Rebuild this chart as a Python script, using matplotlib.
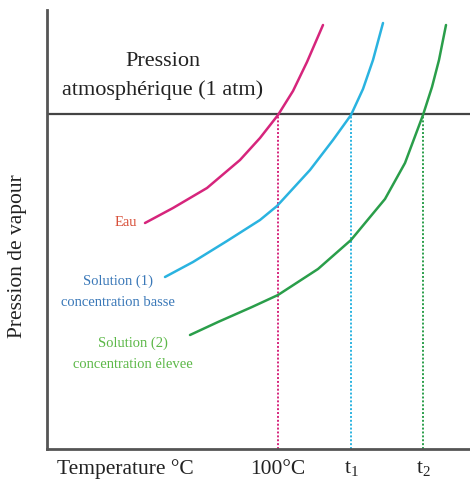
import matplotlib
matplotlib.use("Agg")
import matplotlib.pyplot as plt

plt.rcParams['font.family'] = ['Liberation Serif', 'DejaVu Serif']
plt.rcParams['mathtext.fontset'] = 'custom'
plt.rcParams['mathtext.rm'] = 'Liberation Serif'
plt.rcParams['mathtext.it'] = 'Liberation Serif'

# Data (arbitrary units)
eau_x = [98, 126, 160, 193, 213, 231, 246, 260, 276]
eau_y = [226, 241, 261, 289, 311, 334, 358, 387, 424]
sol1_x = [118, 146, 180, 213, 230, 263, 286, 304, 316, 326, 336]
sol1_y = [172, 187, 208, 229, 243, 279, 309, 334, 360, 389, 426]
sol2_x = [143, 171, 205, 231, 271, 304, 338, 358, 376, 385, 392, 399]
sol2_y = [114, 127, 142, 154, 180, 209, 250, 286, 334, 362, 389, 424]
atm_pressure = 335
boil_x = [231, 304, 376]
boil_labels = ['100°C', r'$\mathregular{t_1}$', r'$\mathregular{t_2}$']

c_eau = '#d6257c'
c_s1 = '#2ab3e0'
c_s2 = '#2a9e4a'

W, H = 470, 483
fig = plt.figure(figsize=(W / 100, H / 100), dpi=100)
ax = fig.add_axes([47 / W, (H - 449) / H, (470 - 47) / W, (449 - 10) / H])
ax.set_xlim(0, 423)
ax.set_ylim(0, 439)
for s in ['top', 'right']:
    ax.spines[s].set_visible(False)
for s in ['left', 'bottom']:
    ax.spines[s].set_color('#555555')
    ax.spines[s].set_linewidth(2)
ax.set_xticks([])
ax.set_yticks([])

ax.axhline(atm_pressure, color='#444444', lw=1.6)

for xb, col in zip(boil_x, [c_eau, c_s1, c_s2]):
    ax.plot([xb, xb], [0, atm_pressure], color=col, lw=1.4, ls=(0, (1, 1)))

for xs, ys, col in [(eau_x, eau_y, c_eau), (sol1_x, sol1_y, c_s1), (sol2_x, sol2_y, c_s2)]:
    ax.plot(xs, ys, color=col, lw=1.8, solid_capstyle='round', solid_joinstyle='round')

def ft(x, y, s, **kw):
    fig.text(x / W, 1 - y / H, s, ha='center', va='center', **kw)

ft(163, 61, 'Pression', fontsize=16, color='#222222')
ft(163, 90, 'atmosphérique (1 atm)', fontsize=16, color='#222222')

ft(126, 222, 'Eau', fontsize=10.5, color='#d8503a')
ft(118, 281, 'Solution (1)', fontsize=10.5, color='#3a78b8')
ft(118, 303, 'concentration basse', fontsize=10.5, color='#3a78b8')
ft(133, 343, 'Solution (2)', fontsize=10.5, color='#5cb848')
ft(133, 365, 'concentration élevee', fontsize=10.5, color='#5cb848')

ft(18, 256, 'Pression de vapour', fontsize=15.5, color='#222222', rotation=90)
ft(125, 469, 'Temperature °C', fontsize=15.5, color='#222222')
for xb, lab in zip(boil_x, boil_labels):
    ax.text(xb, -20, lab, ha='center', va='center', fontsize=15.5, color='#222222', clip_on=False)

fig.savefig('out.png', dpi=100, facecolor='white')
